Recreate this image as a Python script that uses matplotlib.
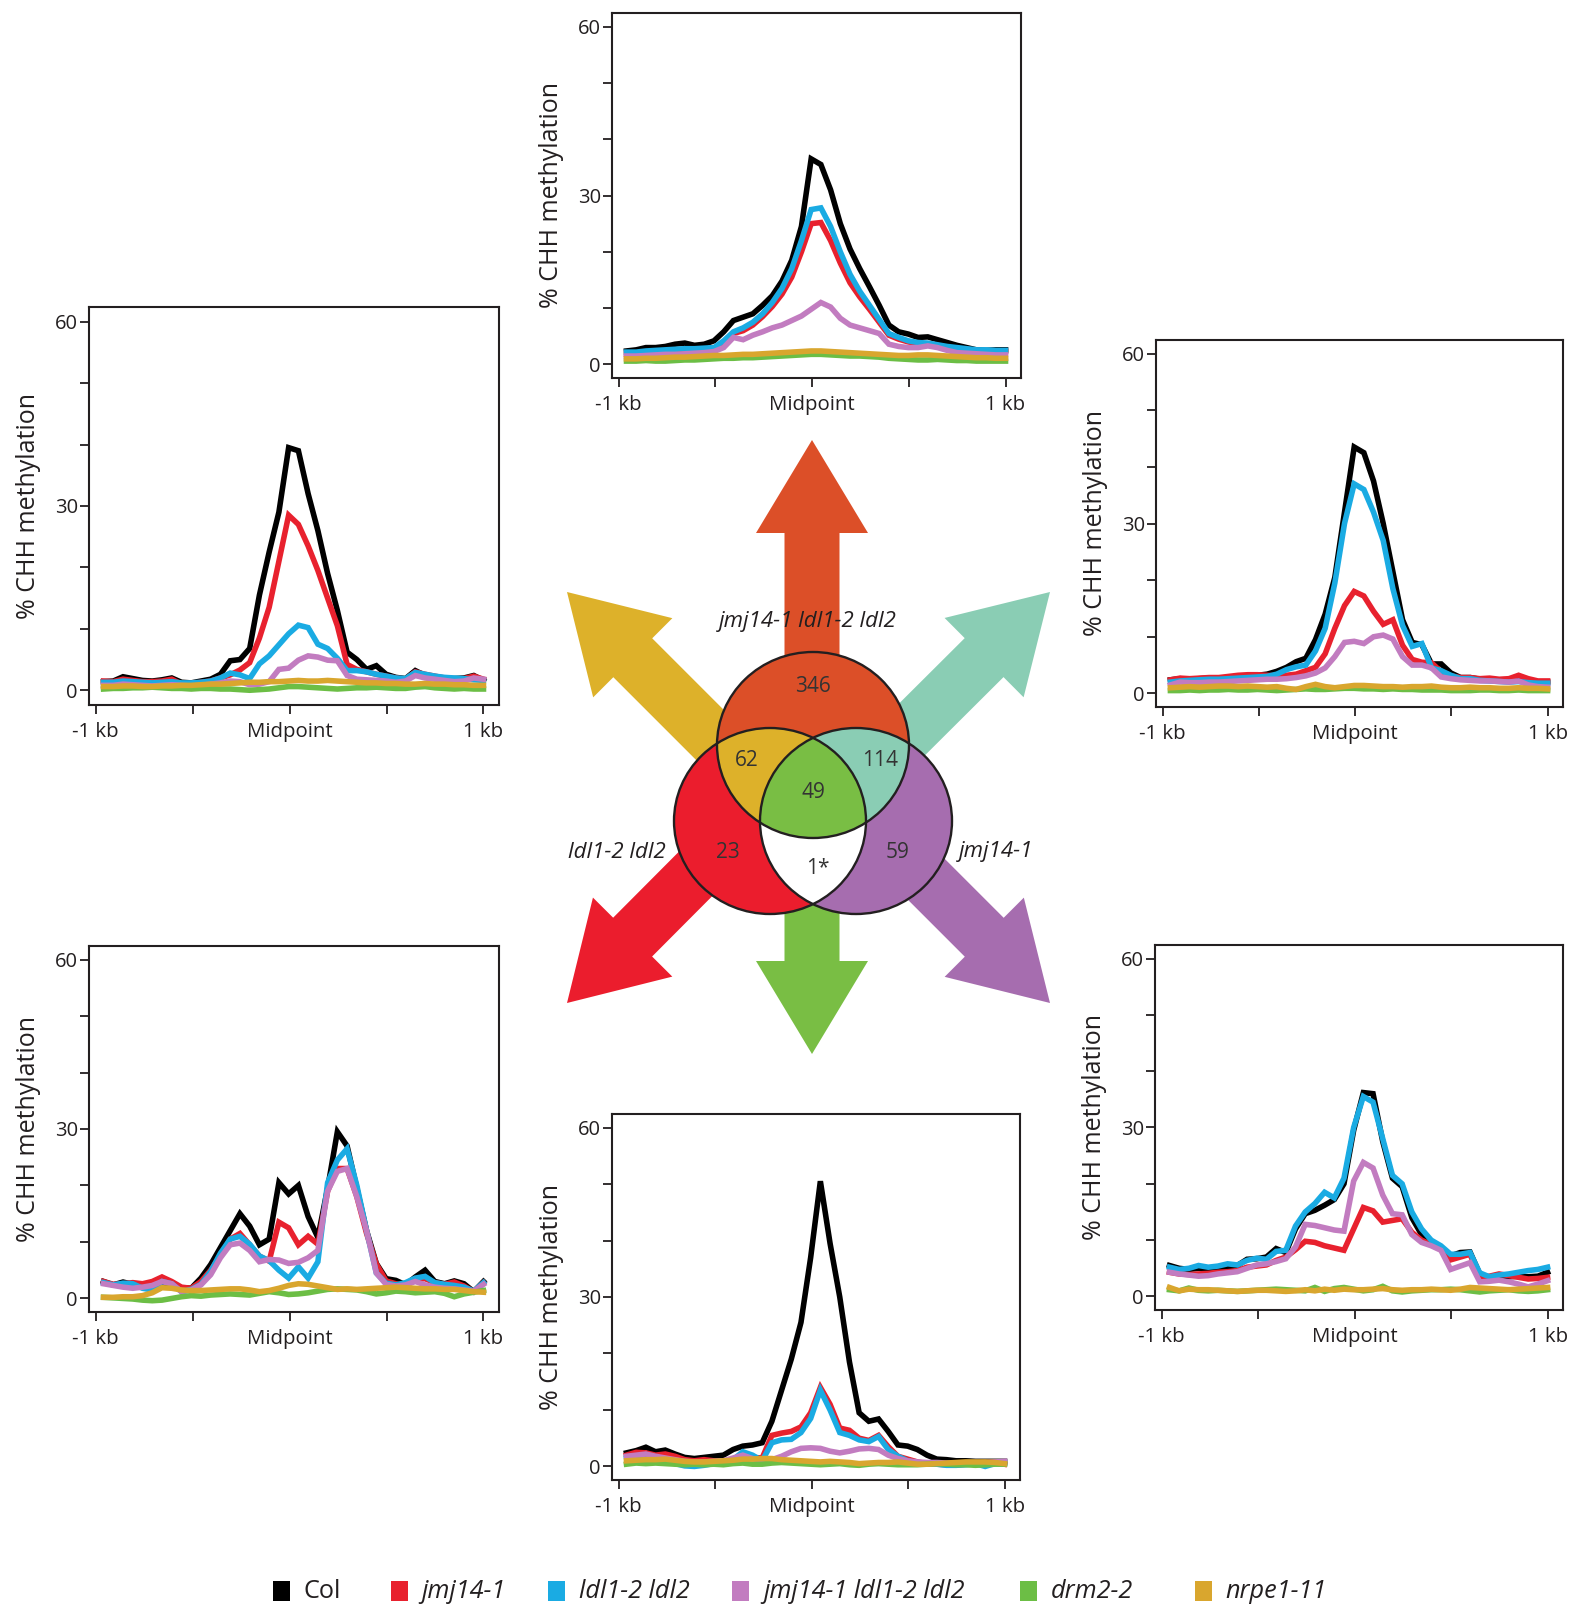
import numpy as np
import matplotlib
matplotlib.use("Agg")  # headless
import matplotlib.pyplot as plt
from matplotlib.patches import Ellipse, Polygon, FancyArrow, Rectangle

plt.rcParams['font.family'] = ['Open Sans', 'DejaVu Sans']

W, H = 1583, 1612
INK = "#231F20"

genotypes = ["Col", "jmj14-1", "ldl1-2 ldl2", "jmj14-1 ldl1-2 ldl2", "drm2-2", "nrpe1-11"]
line_colors = ["#000000", "#E8212E", "#1AABE3", "#C27CC0", "#6CBE45", "#D9A62E"]

# 40 windows spanning -1 kb .. +1 kb around the DMR midpoint
bins = np.linspace(-0.96, 1.0, 40)

# --- % CHH methylation, one list per genotype, per DMR class ---
# jmj14-1 ldl1-2 ldl2 only (346)
p346_col = [2.4, 2.6, 3.0, 3.0, 3.2, 3.6, 3.8, 3.4, 3.6, 4.2, 5.8, 7.8, 8.4, 9.0, 10.5, 12.2, 14.8, 18.5, 24.5, 36.5,
            35.5, 31, 25, 20.5, 17, 13.8, 10.5, 7.0, 5.8, 5.4, 4.8, 4.9, 4.4, 3.9, 3.4, 3.0, 2.6, 2.5, 2.6, 2.6]
p346_jmj = [1.8, 1.8, 2.0, 2.1, 2.2, 2.3, 2.4, 2.4, 2.5, 2.7, 3.8, 5.5, 6.0, 7.0, 8.5, 10.3, 12.5, 15.5, 20, 25,
            25.2, 22, 18, 14.5, 12, 9.8, 7.5, 5.2, 4.5, 4.0, 3.7, 3.6, 3.3, 3.0, 2.8, 2.6, 2.4, 2.4, 2.3, 2.3]
p346_ldl = [2.2, 2.2, 2.4, 2.5, 2.6, 2.7, 2.8, 2.8, 2.9, 3.0, 4.2, 5.8, 6.5, 7.5, 9.0, 11, 13.5, 17, 22, 27.5,
            27.8, 24.5, 20, 16, 13, 10.5, 8.0, 5.5, 4.8, 4.2, 3.9, 3.8, 3.5, 3.2, 3.0, 2.8, 2.6, 2.6, 2.5, 2.5]
p346_tri = [1.5, 1.5, 1.6, 1.7, 1.8, 1.8, 1.9, 2.0, 2.1, 2.3, 3.0, 4.8, 4.4, 5.2, 5.8, 6.5, 7.0, 7.8, 8.6, 9.8,
            11.0, 10.2, 8.2, 7.0, 6.5, 6.0, 5.5, 3.6, 3.2, 3.0, 3.0, 3.3, 3.0, 2.5, 2.1, 2.0, 1.9, 1.8, 1.7, 1.7]
p346_drm = [0.6, 0.6, 0.7, 0.6, 0.6, 0.7, 0.8, 0.8, 0.9, 1.0, 1.1, 1.1, 1.2, 1.2, 1.3, 1.4, 1.5, 1.6, 1.7, 1.8,
            1.8, 1.7, 1.6, 1.5, 1.5, 1.4, 1.3, 1.1, 1.0, 0.9, 0.8, 0.8, 0.9, 0.8, 0.7, 0.7, 0.6, 0.6, 0.6, 0.6]
p346_nrpe = [1.0, 1.0, 1.1, 1.1, 1.2, 1.3, 1.3, 1.4, 1.5, 1.6, 1.6, 1.7, 1.8, 1.8, 1.9, 2.0, 2.1, 2.2, 2.3, 2.4,
             2.4, 2.3, 2.2, 2.1, 2.0, 1.9, 1.8, 1.7, 1.6, 1.6, 1.7, 1.7, 1.6, 1.5, 1.4, 1.3, 1.2, 1.2, 1.1, 1.1]

# jmj14-1 ldl1-2 ldl2 & ldl1-2 ldl2 (62)
p62_col = [1.4, 1.5, 2.2, 1.9, 1.6, 1.5, 1.7, 2.0, 1.3, 1.2, 1.5, 1.8, 2.6, 4.8, 5.0, 6.8, 15.5, 22.5, 29, 39.5,
           39, 32, 26, 19, 13, 6.2, 5.0, 3.4, 4.0, 2.6, 2.1, 1.9, 3.2, 2.4, 2.2, 1.9, 1.9, 2.0, 2.4, 1.6]
p62_jmj = [1.5, 1.4, 1.8, 1.6, 1.4, 1.4, 1.5, 1.8, 1.0, 1.1, 1.3, 1.5, 2.0, 2.5, 3.3, 4.5, 8.5, 13.5, 21, 28.5,
           27, 23.5, 19.5, 15, 10.5, 4.2, 3.4, 3.0, 2.6, 2.3, 2.0, 1.8, 3.0, 2.6, 2.3, 2.0, 1.8, 1.9, 2.3, 1.8]
p62_ldl = [1.3, 1.3, 1.5, 1.4, 1.3, 1.2, 1.3, 1.4, 1.2, 1.2, 1.3, 1.5, 2.0, 2.8, 2.5, 1.9, 4.3, 5.6, 7.4, 9.2,
           10.6, 10.2, 7.5, 6.8, 5.2, 3.2, 3.2, 3.0, 2.6, 2.3, 2.0, 1.9, 2.9, 2.6, 2.3, 2.1, 2.0, 1.9, 1.7, 1.6]
p62_tri = [0.8, 0.8, 1.0, 0.9, 0.8, 0.7, 0.8, 0.9, 0.8, 0.7, 0.8, 1.0, 1.2, 1.5, 1.4, 0.9, 1.0, 1.4, 3.4, 3.6,
           4.9, 5.6, 5.4, 4.9, 4.8, 2.4, 1.8, 1.7, 1.6, 1.5, 1.3, 1.5, 2.4, 2.0, 1.8, 1.6, 1.4, 1.5, 2.0, 1.8]
p62_drm = [0.2, 0.3, 0.3, 0.4, 0.4, 0.5, 0.4, 0.3, 0.3, 0.2, 0.3, 0.3, 0.2, 0.2, 0.1, 0.0, 0.1, 0.2, 0.4, 0.6,
           0.6, 0.5, 0.4, 0.3, 0.2, 0.3, 0.4, 0.4, 0.5, 0.4, 0.3, 0.3, 0.5, 0.6, 0.4, 0.3, 0.2, 0.3, 0.2, 0.2]
p62_nrpe = [0.6, 0.6, 0.7, 0.7, 0.6, 0.6, 0.7, 0.7, 0.8, 0.8, 0.9, 1.0, 1.0, 1.1, 1.2, 1.3, 1.3, 1.4, 1.4, 1.5,
            1.6, 1.5, 1.5, 1.6, 1.5, 1.4, 1.3, 1.2, 1.2, 1.1, 1.1, 1.0, 1.0, 1.1, 1.0, 1.0, 0.9, 0.9, 0.8, 0.8]

# jmj14-1 ldl1-2 ldl2 & jmj14-1 (114)
p114_col = [2.4, 2.6, 2.5, 2.6, 2.7, 2.7, 2.8, 3.0, 3.1, 3.2, 3.4, 3.9, 4.6, 5.6, 6.2, 9.5, 14, 20.5, 32, 43.5,
            42.5, 37.5, 30, 21.5, 13, 9.0, 8.6, 5.2, 5.2, 3.6, 2.8, 2.8, 2.5, 2.4, 2.4, 2.3, 2.5, 2.2, 2.0, 2.0]
p114_jmj = [2.4, 2.7, 2.6, 2.7, 2.8, 2.8, 3.0, 3.2, 3.3, 3.3, 3.2, 3.1, 3.2, 3.4, 4.0, 4.6, 7.0, 11.5, 15.5, 18,
            17.2, 14.5, 12.2, 13, 8.5, 6.0, 5.5, 5.4, 3.8, 3.1, 2.8, 2.8, 2.6, 2.7, 2.5, 2.6, 3.2, 2.6, 2.2, 2.2]
p114_ldl = [2.0, 2.2, 2.3, 2.4, 2.5, 2.5, 2.6, 2.7, 2.8, 2.9, 3.0, 3.4, 4.2, 4.7, 5.0, 7.5, 11.5, 19.5, 30, 37,
            36, 32, 27, 18.5, 12, 8.3, 8.8, 4.5, 4.0, 3.2, 2.6, 2.6, 2.3, 2.2, 2.1, 2.0, 2.1, 1.9, 1.8, 1.8]
p114_tri = [1.5, 2.0, 1.9, 1.9, 2.0, 2.0, 2.1, 2.2, 2.3, 2.4, 2.5, 2.5, 2.6, 2.8, 3.1, 3.6, 4.5, 6.5, 9.0, 9.2,
            8.8, 10.0, 10.3, 9.6, 6.5, 5.0, 5.0, 4.5, 2.9, 2.6, 2.4, 2.3, 2.2, 2.2, 2.1, 2.0, 2.2, 1.5, 1.2, 1.1]
p114_drm = [0.5, 0.5, 0.6, 0.5, 0.6, 0.6, 0.7, 0.6, 0.6, 0.7, 0.6, 0.5, 0.6, 0.7, 0.8, 0.7, 0.7, 0.8, 0.9, 0.9,
            0.8, 0.8, 0.7, 0.8, 0.7, 0.7, 0.6, 0.6, 0.6, 0.5, 0.5, 0.5, 0.6, 0.6, 0.5, 0.5, 0.6, 0.5, 0.5, 0.5]
p114_nrpe = [1.0, 1.1, 1.2, 1.1, 1.2, 1.3, 1.3, 1.2, 1.3, 1.2, 1.1, 1.2, 0.9, 0.7, 1.2, 1.6, 1.2, 1.0, 1.2, 1.4,
             1.4, 1.3, 1.2, 1.2, 1.1, 1.2, 1.2, 1.3, 1.1, 1.0, 1.0, 1.1, 1.0, 1.0, 0.9, 0.9, 1.0, 0.9, 0.9, 0.8]

# ldl1-2 ldl2 only (23)
p23_col = [3.0, 2.4, 2.9, 2.5, 2.1, 2.3, 2.6, 2.2, 1.9, 1.8, 3.6, 6.0, 9.0, 12.0, 15.0, 12.8, 9.5, 10.5, 20.5, 18.5,
           20, 14.5, 10.8, 19.5, 29.5, 27, 19.5, 12.0, 6.2, 3.5, 3.2, 2.4, 3.8, 5.0, 3.0, 2.6, 3.1, 2.6, 1.2, 3.0]
p23_jmj = [3.0, 2.5, 2.6, 2.8, 2.6, 3.0, 3.8, 3.0, 2.0, 1.8, 3.0, 5.0, 7.5, 10.5, 11.5, 9.5, 7.5, 6.6, 13.5, 12.5,
           9.5, 11.0, 9.6, 19.0, 23.0, 23.0, 18.0, 11.5, 6.1, 3.1, 2.6, 2.2, 3.4, 3.5, 2.8, 2.5, 2.9, 2.2, 1.2, 2.8]
p23_ldl = [2.8, 2.4, 2.7, 2.6, 1.8, 1.5, 3.0, 2.6, 1.2, 1.6, 2.5, 4.8, 8.0, 10.5, 11.0, 9.6, 7.5, 6.7, 5.0, 3.6,
           5.6, 3.6, 6.5, 20.5, 24.5, 26.5, 20.0, 12.0, 4.5, 2.7, 2.4, 2.8, 3.6, 3.9, 2.8, 2.5, 2.3, 2.0, 1.3, 2.8]
p23_tri = [2.6, 2.3, 2.0, 1.8, 2.0, 2.3, 3.0, 2.6, 1.2, 1.5, 2.4, 4.2, 7.2, 9.5, 9.8, 8.5, 6.5, 6.9, 6.8, 6.2,
           6.4, 7.2, 8.5, 19.0, 22.5, 23.0, 18.0, 12.0, 4.5, 2.5, 2.2, 2.4, 3.0, 2.4, 2.0, 1.8, 1.7, 1.5, 1.3, 2.5]
p23_drm = [0.2, 0.1, 0.0, -0.1, -0.3, -0.4, -0.3, 0.0, 0.3, 0.5, 0.4, 0.6, 0.7, 0.8, 0.7, 0.6, 0.9, 1.2, 1.0, 0.7,
           0.8, 1.0, 1.3, 1.6, 1.7, 1.6, 1.5, 1.2, 0.8, 1.0, 1.3, 1.2, 1.0, 1.1, 1.2, 0.9, 0.3, 0.8, 1.1, 1.4]
p23_nrpe = [0.2, 0.2, 0.3, 0.3, 0.5, 1.0, 1.9, 1.8, 1.5, 1.4, 1.4, 1.5, 1.6, 1.7, 1.7, 1.5, 1.2, 1.4, 1.8, 2.3,
            2.6, 2.5, 2.2, 1.9, 1.6, 1.7, 1.6, 1.7, 1.8, 1.9, 2.0, 1.9, 1.8, 1.7, 1.7, 1.6, 1.6, 1.4, 1.2, 1.1]

# shared by all three mutants (49)
p49_col = [2.4, 2.8, 3.4, 2.6, 2.9, 2.2, 1.6, 1.4, 1.6, 1.8, 2.0, 3.0, 3.6, 3.8, 4.2, 8.0, 13.5, 19, 25.5, 37,
           50.5, 39.5, 30, 18.5, 9.5, 8.0, 8.4, 6.2, 3.8, 3.6, 3.0, 2.0, 1.3, 1.2, 1.0, 1.0, 0.9, 0.9, 0.9, 0.9]
p49_jmj = [2.0, 2.5, 2.4, 2.0, 2.2, 1.8, 1.2, 1.0, 1.2, 1.0, 0.8, 1.0, 2.4, 1.6, 1.5, 5.5, 5.9, 6.2, 7.0, 9.5,
           14.0, 11.0, 6.8, 6.4, 5.0, 4.6, 5.5, 3.5, 1.8, 1.3, 0.8, 0.5, 0.4, 0.3, 0.3, 0.4, 0.6, 0.6, 0.8, 0.4]
p49_ldl = [1.5, 1.8, 1.7, 1.2, 1.0, 0.5, 0.1, 0.0, 0.2, 0.5, 0.6, 1.2, 2.6, 2.0, 1.0, 4.2, 4.7, 4.8, 6.0, 8.5,
           13.5, 10.0, 6.0, 5.5, 4.7, 4.4, 5.3, 3.0, 1.8, 1.0, 0.6, 0.5, 0.4, 0.2, 0.2, 0.3, 0.5, 0.0, 0.5, 0.6]
p49_tri = [1.8, 2.0, 2.2, 1.8, 1.5, 1.2, 0.9, 0.8, 0.8, 0.9, 1.0, 1.5, 2.0, 1.4, 1.0, 1.2, 1.8, 2.6, 3.2, 3.3,
           3.2, 2.7, 2.4, 2.7, 3.1, 3.2, 3.0, 2.0, 1.4, 1.0, 0.8, 0.7, 0.7, 0.6, 0.6, 0.6, 0.6, 0.7, 0.8, 0.9]
p49_drm = [0.4, 0.6, 0.5, 0.6, 0.5, 0.4, 0.3, 0.4, 0.3, 0.4, 0.3, 0.5, 0.6, 0.4, 0.4, 0.6, 0.7, 0.6, 0.5, 0.4,
           0.3, 0.4, 0.5, 0.3, 0.2, 0.4, 0.5, 0.4, 0.3, 0.3, 0.3, 0.4, 0.5, 0.4, 0.3, 0.3, 0.2, 0.3, 0.4, 0.4]
p49_nrpe = [1.0, 1.1, 1.2, 1.2, 1.3, 1.1, 0.9, 0.8, 0.8, 0.9, 1.0, 1.1, 1.3, 1.3, 1.4, 1.4, 1.2, 1.1, 1.0, 0.9,
            0.8, 0.9, 0.8, 0.7, 0.5, 0.6, 0.7, 0.7, 0.8, 0.6, 0.4, 0.4, 0.5, 0.6, 0.7, 0.8, 0.8, 0.8, 0.7, 0.5]

# jmj14-1 only (59)
p59_col = [5.5, 5.0, 4.8, 5.0, 5.0, 5.1, 5.2, 5.5, 6.6, 6.7, 7.0, 8.5, 7.8, 12.0, 14.7, 15.3, 16.2, 17.2, 20.0, 29.5,
           36.2, 36.0, 27.5, 21.0, 19.5, 14.0, 11.0, 9.5, 8.6, 7.2, 7.8, 7.9, 4.0, 3.1, 3.1, 3.5, 3.6, 3.5, 3.6, 4.3]
p59_jmj = [4.3, 4.0, 3.9, 4.0, 4.1, 4.3, 4.4, 4.6, 5.2, 5.4, 5.6, 6.4, 7.0, 8.3, 9.8, 9.6, 9.0, 8.6, 8.2, 12.0,
           15.8, 15.2, 13.2, 13.5, 13.8, 11.4, 10.0, 9.2, 8.4, 6.5, 7.0, 7.5, 3.4, 3.6, 4.0, 3.7, 3.4, 3.1, 3.2, 3.4]
p59_ldl = [5.2, 4.8, 5.0, 5.5, 5.2, 5.4, 5.8, 5.6, 6.4, 6.8, 6.6, 8.0, 8.2, 12.5, 15.0, 16.5, 18.5, 17.5, 21.0, 30.0,
           35.5, 34.5, 28.0, 21.5, 20.0, 15.0, 12.0, 10.0, 9.0, 7.5, 7.5, 7.8, 4.2, 3.5, 3.8, 4.0, 4.3, 4.6, 4.8, 5.2]
p59_tri = [4.3, 4.0, 3.8, 3.6, 3.7, 4.0, 4.2, 4.4, 5.0, 5.6, 5.8, 6.2, 6.7, 8.8, 12.8, 12.6, 12.2, 11.8, 11.6, 20.5,
           23.8, 22.8, 18.0, 14.7, 14.5, 11.0, 9.6, 9.0, 8.2, 4.8, 5.4, 6.0, 2.6, 2.7, 2.9, 2.6, 2.2, 1.7, 2.2, 2.8]
p59_drm = [1.2, 1.0, 1.5, 1.1, 1.0, 1.1, 1.0, 0.9, 1.0, 1.1, 1.2, 1.3, 1.2, 1.1, 1.0, 1.6, 0.9, 1.4, 1.6, 1.3,
           1.0, 1.2, 1.8, 1.0, 0.8, 1.0, 1.1, 1.2, 1.2, 1.3, 1.2, 1.0, 0.8, 1.0, 1.1, 1.2, 1.0, 0.9, 1.0, 1.2]
p59_nrpe = [1.6, 1.0, 1.3, 1.2, 1.2, 1.1, 1.0, 0.9, 1.0, 1.1, 1.1, 1.0, 0.9, 1.0, 1.2, 1.0, 1.3, 1.1, 1.3, 1.2,
            1.2, 1.3, 1.4, 1.2, 1.1, 1.2, 1.2, 1.3, 1.2, 1.1, 1.3, 1.6, 1.5, 1.4, 1.3, 1.2, 1.3, 1.4, 1.5, 1.6]

# Venn diagram: hyper-DMR counts per region
venn_sets = ["jmj14-1 ldl1-2 ldl2", "ldl1-2 ldl2", "jmj14-1"]
venn_counts = ["346", "62", "114", "49", "23", "59", "1*"]

# region colours (also used for the arrows)
c_346, c_62, c_114, c_49, c_23, c_59 = "#DC4F28", "#DDB12A", "#8ACDB4", "#79BE44", "#EB1D2D", "#A66DAF"

# panel boxes in pixels (left, top, right, bottom)
panels = [
    ((612, 13, 1021, 378), [p346_col, p346_jmj, p346_ldl, p346_tri, p346_drm, p346_nrpe]),
    ((89, 307, 499, 705), [p62_col, p62_jmj, p62_ldl, p62_tri, p62_drm, p62_nrpe]),
    ((1156, 340, 1563, 707), [p114_col, p114_jmj, p114_ldl, p114_tri, p114_drm, p114_nrpe]),
    ((89, 946, 499, 1312), [p23_col, p23_jmj, p23_ldl, p23_tri, p23_drm, p23_nrpe]),
    ((612, 1114, 1020, 1480), [p49_col, p49_jmj, p49_ldl, p49_tri, p49_drm, p49_nrpe]),
    ((1155, 945, 1563, 1310), [p59_col, p59_jmj, p59_ldl, p59_tri, p59_drm, p59_nrpe]),
]

fig = plt.figure(figsize=(W / 100, H / 100), dpi=100)

# overlay in pixel coordinates for the Venn, arrows and legend
ov = fig.add_axes([0, 0, 1, 1])
ov.set_xlim(0, W)
ov.set_ylim(H, 0)
ov.axis("off")

arrows = [
    ((812, 760), (812, 440), c_346),
    ((812, 800), (812, 1054), c_49),
    ((808, 833), (567, 592), c_62),
    ((808, 833), (1050, 592), c_114),
    ((808, 761), (567, 1003), c_23),
    ((808, 761), (1050, 1003), c_59),
]
for (x0, y0), (x1, y1), col in arrows:
    ov.add_patch(FancyArrow(x0, y0, x1 - x0, y1 - y0, width=55, head_width=112, head_length=93,
                            length_includes_head=True, color=col, lw=0, zorder=1))


def ellipse_poly(cx, cy, w, h, n=400):
    t = np.linspace(0, 2 * np.pi, n, endpoint=False)
    return np.column_stack([cx + w / 2 * np.cos(t), cy + h / 2 * np.sin(t)])


def clip_convex(subject, clipper):
    # Sutherland-Hodgman, both polygons convex and counter-clockwise
    out = subject
    for i in range(len(clipper)):
        a, b = clipper[i], clipper[(i + 1) % len(clipper)]
        inp, out = out, []
        if len(inp) == 0:
            break

        def side(p):
            return (b[0] - a[0]) * (p[1] - a[1]) - (b[1] - a[1]) * (p[0] - a[0])

        for j in range(len(inp)):
            p, q = inp[j - 1], inp[j]
            sp, sq = side(p), side(q)
            if sq >= 0:
                if sp < 0:
                    out.append(p + (q - p) * sp / (sp - sq))
                out.append(q)
            elif sp >= 0:
                out.append(p + (q - p) * sp / (sp - sq))
        out = np.array(out)
    return np.array(out)


ew, eh = 192, 186
top_c, red_c, pur_c = (813, 745), (770, 821), (856, 821)
e_top = ellipse_poly(*top_c, ew, eh)
e_red = ellipse_poly(*red_c, ew, eh)
e_pur = ellipse_poly(*pur_c, ew, eh)

for poly, col in [(e_top, c_346), (e_red, c_23), (e_pur, c_59)]:
    ov.add_patch(Polygon(poly, closed=True, fc=col, ec="none", zorder=3))
top_red = clip_convex(e_top, e_red)
top_pur = clip_convex(e_top, e_pur)
red_pur = clip_convex(e_red, e_pur)
all3 = clip_convex(top_red, e_pur)
for poly, col in [(top_red, c_62), (top_pur, c_114), (red_pur, "white"), (all3, c_49)]:
    ov.add_patch(Polygon(poly, closed=True, fc=col, ec="none", zorder=3))
for c in [top_c, red_c, pur_c]:
    ov.add_patch(Ellipse(c, ew, eh, fc="none", ec=INK, lw=1.7, zorder=4))

count_pos = [(813, 686), (747, 760), (880, 760), (813, 792), (728, 853), (898, 853), (818, 868)]
for (x, y), s in zip(count_pos, venn_counts):
    ov.text(x, y, s, ha="center", va="center", fontsize=15, color="#333333", zorder=5)

set_pos = [(808, 622), (617, 853), (996, 852)]
for (x, y), s in zip(set_pos, venn_sets):
    ov.text(x, y, s, ha="center", va="center", fontsize=16, style="italic", color=INK, zorder=5)

# legend row
legend_x = [304, 421.5, 579, 763, 1051, 1225.5]
for tx, name, col in zip(legend_x, genotypes, line_colors):
    ov.add_patch(Rectangle((tx - 30.5, 1581), 17, 20, fc=col, ec="none"))
    ov.text(tx, 1592, name, ha="left", va="center", fontsize=18.2, color=INK,
            style="normal" if name == "Col" else "italic")

# six methylation profiles
for (x0, y0, x1, y1), series in panels:
    ax = fig.add_axes([x0 / W, 1 - y1 / H, (x1 - x0) / W, (y1 - y0) / H])
    for vals, col in zip(series, line_colors):
        ax.plot(bins, vals, color=col, lw=4.0, solid_joinstyle="miter")
    ax.set_xlim(-1.035, 1.08)
    ax.set_ylim(-2.4, 62.4)
    ax.set_xticks([-1, -0.5, 0, 0.5, 1])
    ax.set_xticklabels(["-1 kb", "", "Midpoint", "", "1 kb"])
    ax.set_yticks(range(0, 61, 10))
    ax.set_yticklabels(["0", "", "", "30", "", "", "60"])
    ax.tick_params(direction="out", length=6.5, width=1.3, color=INK, labelcolor=INK)
    ax.tick_params(axis="x", labelsize=14.7, pad=6)
    ax.tick_params(axis="y", labelsize=14.5, pad=1.5)
    for sp in ax.spines.values():
        sp.set_linewidth(1.5)
        sp.set_color(INK)
    ax.set_ylabel("% CHH methylation", fontsize=18, color=INK)
    ax.yaxis.set_label_coords(-48 / (x1 - x0), 0.5)

fig.savefig("out.png", dpi=100)
